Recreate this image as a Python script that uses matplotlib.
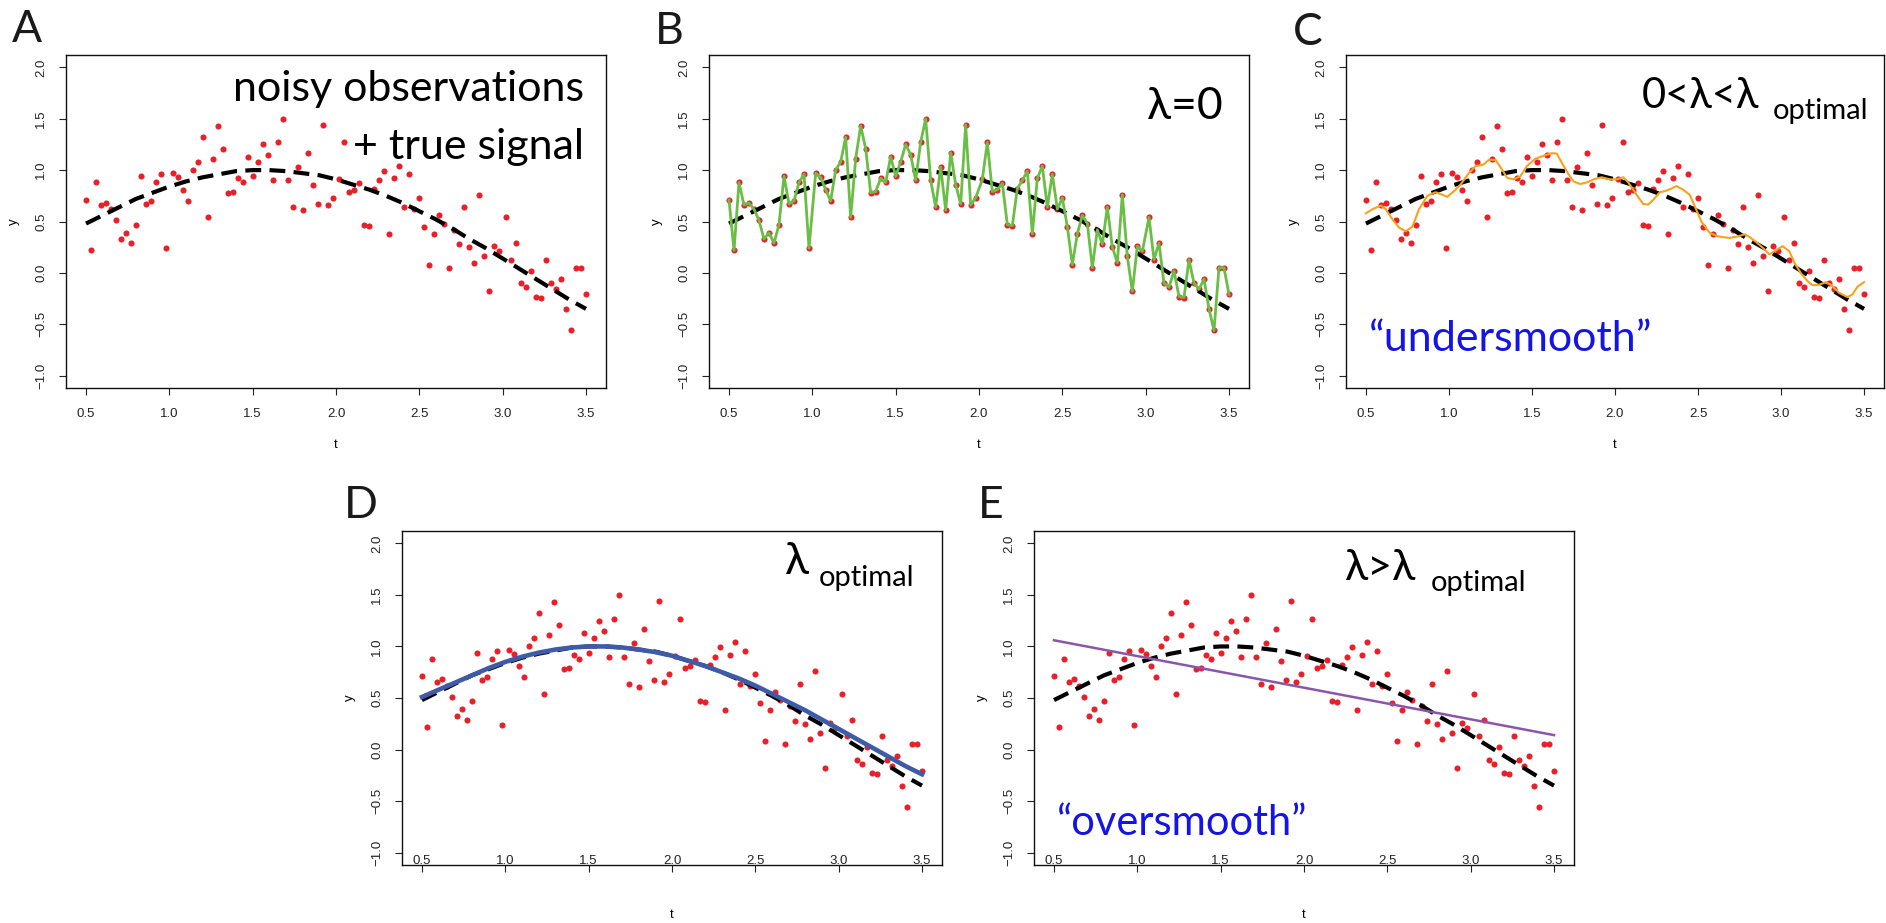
import matplotlib.pyplot as plt
import numpy as np

# noisy observations
t_obs = [0.50, 0.53, 0.56, 0.59, 0.62, 0.65, 0.68, 0.71, 0.74, 0.77, 0.80, 0.83, 0.86, 0.89, 0.92, 0.95, 0.98,
         1.02, 1.05, 1.08, 1.11, 1.14, 1.17, 1.20, 1.23, 1.26, 1.29, 1.32, 1.35, 1.38, 1.41, 1.44, 1.47, 1.50,
         1.53, 1.56, 1.59, 1.62, 1.65, 1.68, 1.71, 1.74, 1.77, 1.80, 1.83, 1.86, 1.89, 1.92, 1.95, 1.98,
         2.02, 2.05, 2.08, 2.11, 2.14, 2.17, 2.20, 2.23, 2.26, 2.29, 2.32, 2.35, 2.38, 2.41, 2.44, 2.47, 2.50,
         2.53, 2.56, 2.59, 2.62, 2.65, 2.68, 2.71, 2.74, 2.77, 2.80, 2.83, 2.86, 2.89, 2.92, 2.95, 2.98,
         3.02, 3.05, 3.08, 3.11, 3.14, 3.17, 3.20, 3.23, 3.26, 3.29, 3.32, 3.35, 3.38, 3.41, 3.44, 3.47, 3.50]
y_obs = [0.71, 0.22, 0.88, 0.66, 0.68, 0.62, 0.51, 0.33, 0.39, 0.29,
         0.47, 0.94, 0.67, 0.70, 0.88, 0.96, 0.24, 0.97, 0.93, 0.81,
         0.70, 1.00, 1.08, 1.32, 0.54, 1.11, 1.43, 1.21, 0.78, 0.79,
         0.92, 0.88, 1.13, 0.94, 1.08, 1.25, 1.15, 0.90, 1.27, 1.50,
         0.90, 0.64, 1.03, 0.61, 1.17, 0.86, 0.67, 1.44, 0.66, 0.73,
         0.91, 1.27, 0.79, 0.81, 0.87, 0.47, 0.46, 0.82, 0.90, 0.99,
         0.38, 0.92, 1.04, 0.64, 0.96, 0.62, 0.73, 0.45, 0.08, 0.38,
         0.56, 0.48, 0.05, 0.42, 0.28, 0.64, 0.25, 0.10, 0.76, 0.16,
         -0.18, 0.26, 0.21, 0.54, 0.13, 0.29, -0.10, -0.14, 0.02, -0.23,
         -0.24, 0.13, -0.10, -0.16, -0.06, -0.35, -0.56, 0.05, 0.05, -0.21]

# true signal (dashed curve)
t_true = [0.5, 0.6, 0.7, 0.8, 0.9, 1.0, 1.1, 1.2, 1.3, 1.4, 1.5, 1.6, 1.7, 1.8, 1.9, 2.0,
          2.1, 2.2, 2.3, 2.4, 2.5, 2.6, 2.7, 2.8, 2.9, 3.0, 3.1, 3.2, 3.3, 3.4, 3.5]
y_true = [0.48, 0.56, 0.64, 0.72, 0.78, 0.84, 0.89, 0.93, 0.96, 0.99, 1.00, 1.00, 0.99, 0.97, 0.95, 0.91,
          0.86, 0.81, 0.75, 0.68, 0.60, 0.52, 0.43, 0.33, 0.24, 0.14, 0.04, -0.06, -0.16, -0.26, -0.35]

# undersmoothed fit (orange)
t_under = [0.50, 0.54, 0.59, 0.62, 0.66, 0.70, 0.74, 0.78, 0.82, 0.87, 0.92, 0.96, 0.99, 1.03, 1.07,
           1.12, 1.16, 1.21, 1.24, 1.28, 1.32, 1.35, 1.39, 1.43, 1.47, 1.52, 1.57, 1.62, 1.65, 1.68,
           1.72, 1.75, 1.79, 1.83, 1.88, 1.92, 1.97, 2.01, 2.05, 2.08, 2.13, 2.17, 2.20, 2.23, 2.27,
           2.30, 2.34, 2.37, 2.41, 2.45, 2.48, 2.52, 2.57, 2.62, 2.69, 2.74, 2.78, 2.81, 2.85, 2.89,
           2.93, 2.96, 3.01, 3.05, 3.08, 3.12, 3.16, 3.19, 3.23, 3.27, 3.30, 3.35, 3.40, 3.43, 3.46, 3.50]
y_under = [0.58, 0.62, 0.655, 0.62, 0.52, 0.44, 0.405, 0.45, 0.62, 0.75, 0.785, 0.76, 0.74, 0.795, 0.86,
           0.97, 1.04, 1.055, 1.10, 1.10, 1.005, 0.925, 0.91, 0.94, 1.04, 1.11, 1.14, 1.165, 1.16, 1.07,
           0.96, 0.89, 0.865, 0.88, 0.915, 0.93, 0.91, 0.91, 0.93, 0.88, 0.76, 0.67, 0.665, 0.71, 0.785,
           0.795, 0.82, 0.845, 0.81, 0.76, 0.65, 0.50, 0.39, 0.355, 0.34, 0.355, 0.375, 0.35, 0.30, 0.245,
           0.18, 0.21, 0.26, 0.21, 0.10, -0.005, -0.08, -0.12, -0.115, -0.09, -0.115, -0.195, -0.235, -0.21, -0.135, -0.09]

# optimal fit (blue)
t_opt = t_true
y_opt = [0.51, 0.58, 0.65, 0.72, 0.79, 0.85, 0.90, 0.94, 0.97, 0.99, 1.00, 1.00, 0.99, 0.97, 0.945, 0.91,
         0.86, 0.81, 0.75, 0.69, 0.62, 0.54, 0.46, 0.38, 0.29, 0.20, 0.11, 0.02, -0.07, -0.16, -0.24]

# oversmoothed fit (purple)
t_over = [0.5, 3.5]
y_over = [1.06, 0.14]

W, H = 1886, 923
fig = plt.figure(figsize=(W / 100, H / 100), dpi=100)

TEXT_FONT = ['Lato', 'DejaVu Sans']
TICK_FONT = 'Liberation Sans'
RED = '#E8202A'
BLUE_TXT = '#1414E6'


def make_axes(left, top, right, bottom, labels_inside=False):
    ax = fig.add_axes([left / W, 1 - bottom / H, (right - left) / W, (bottom - top) / H])
    ax.set_xlim(0.38, 3.62)
    ax.set_ylim(-1.12, 2.12)
    ax.set_xticks([0.5, 1.0, 1.5, 2.0, 2.5, 3.0, 3.5])
    ax.set_yticks([-1.0, -0.5, 0.0, 0.5, 1.0, 1.5, 2.0])
    ax.set_xticklabels(['0.5', '1.0', '1.5', '2.0', '2.5', '3.0', '3.5'], fontfamily=TICK_FONT)
    ax.set_yticklabels(['\u22121.0', '\u22120.5', '0.0', '0.5', '1.0', '1.5', '2.0'],
                       rotation=90, va='center', fontfamily=TICK_FONT)
    ax.tick_params(direction='out', length=5, width=0.8, colors='#222222', labelsize=9.5)
    ax.tick_params(axis='y', pad=8.5)
    ax.tick_params(axis='x', pad=-12 if labels_inside else 9.4)
    for s in ax.spines.values():
        s.set_linewidth(1.0)
        s.set_color('#111111')
    ax.text(0.5, -0.17 if not labels_inside else -0.15, 't', transform=ax.transAxes,
            ha='center', va='center', fontsize=9.5, fontfamily=TICK_FONT)
    ax.text(-0.097, 0.5, 'y', transform=ax.transAxes, rotation=90,
            ha='center', va='center', fontsize=9.5, fontfamily=TICK_FONT)
    return ax


def base(ax):
    ax.plot(t_obs, y_obs, 'o', color=RED, markersize=4.4, markeredgewidth=0, zorder=2)
    ax.plot(t_true, y_true, color='black', lw=3, ls=(0, (3.8, 2)), zorder=3)


axA = make_axes(66, 55, 606, 388)
axB = make_axes(709, 55, 1249, 388)
axC = make_axes(1346, 55, 1884, 388)
axD = make_axes(402, 531, 942, 865, labels_inside=True)
axE = make_axes(1034, 531, 1574, 865, labels_inside=True)

for ax in [axA, axB, axC, axD, axE]:
    base(ax)

axB.plot(t_obs, y_obs, color='#6ABD45', lw=2, zorder=4)
axC.plot(t_under, y_under, color='#F7A21B', lw=1.5, zorder=4)
axD.plot(t_opt, y_opt, color='#3E5BA8', lw=3.3, zorder=4)
axE.plot(t_over, y_over, color='#8A56A8', lw=1.8, zorder=4)

# annotations
axA.text(3.49, 1.67, 'noisy observations', ha='right', va='baseline', fontsize=31, fontfamily=TEXT_FONT)
axA.text(3.49, 1.11, '+ true signal', ha='right', va='baseline', fontsize=31, fontfamily=TEXT_FONT)
axB.text(3.01, 1.5, '\u03bb=0', ha='left', va='baseline', fontsize=32, fontfamily=TEXT_FONT)
axC.text(2.16, 1.60, '0<\u03bb<\u03bb', ha='left', va='baseline', fontsize=30, fontfamily=TEXT_FONT)
axC.text(2.95, 1.50, 'optimal', ha='left', va='baseline', fontsize=21, fontfamily=TEXT_FONT)
axC.text(0.52, -0.76, '\u201cundersmooth\u201d', ha='left', va='baseline', fontsize=31,
         color=BLUE_TXT, fontfamily=TEXT_FONT)
axD.text(2.68, 1.70, '\u03bb', ha='left', va='baseline', fontsize=32, fontfamily=TEXT_FONT)
axD.text(2.88, 1.59, 'optimal', ha='left', va='baseline', fontsize=21, fontfamily=TEXT_FONT)
axE.text(2.24, 1.64, '\u03bb>\u03bb', ha='left', va='baseline', fontsize=31, fontfamily=TEXT_FONT)
axE.text(2.76, 1.54, 'optimal', ha='left', va='baseline', fontsize=21, fontfamily=TEXT_FONT)
axE.text(0.52, -0.83, '\u201coversmooth\u201d', ha='left', va='baseline', fontsize=30,
         color=BLUE_TXT, fontfamily=TEXT_FONT)

# panel letters
for letter, x, y in [('A', 12, 42), ('B', 655, 44), ('C', 1293, 45), ('D', 344, 518), ('E', 978, 518)]:
    fig.text(x / W, 1 - y / H, letter, ha='left', va='baseline', fontsize=32,
             fontfamily=TEXT_FONT, color='#1a1a1a')

fig.savefig('out.png', dpi=100)
